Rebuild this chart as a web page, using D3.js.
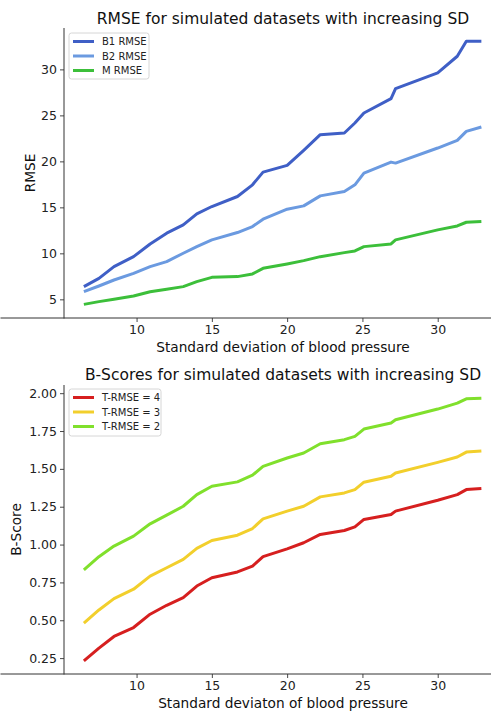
<!DOCTYPE html>
<html>
<head>
<meta charset="utf-8">
<script src="https://cdn.jsdelivr.net/npm/d3@7"></script>
<style>
  html, body { margin: 0; padding: 0; background: #fff; }
  svg { display: block; font-family: "DejaVu Sans", sans-serif; }
</style>
</head>
<body>
<svg id="chart" width="491" height="711"></svg>
<script>
// Standard deviation of blood pressure for each simulated dataset
const sdValues = [6.5, 7.5, 8.5, 9.8, 10.9, 12.0, 13.1, 14.0, 15.0, 16.7, 17.7, 18.4,
                  20.0, 21.1, 22.2, 23.8, 24.5, 25.1, 26.9, 27.2, 30.0, 31.3, 31.9, 32.9];

// RMSE series
const b1Rmse = [6.38, 7.28, 8.55, 9.64, 11.02, 12.19, 13.09, 14.29, 15.09, 16.18, 17.45, 18.83,
                19.56, 21.2, 22.90, 23.08, 24.17, 25.26, 26.82, 27.91, 29.62, 31.43, 33.06, 33.06];
const b2Rmse = [5.83, 6.45, 7.10, 7.83, 8.55, 9.10, 10.01, 10.73, 11.46, 12.26, 12.91, 13.71,
                14.80, 15.16, 16.25, 16.72, 17.45, 18.72, 19.92, 19.81, 21.45, 22.28, 23.26, 23.73];
const mRmse  = [4.45, 4.75, 5.00, 5.36, 5.83, 6.10, 6.38, 6.92, 7.39, 7.47, 7.76, 8.37,
                8.85, 9.21, 9.64, 10.08, 10.26, 10.73, 11.02, 11.46, 12.55, 12.98, 13.38, 13.46];

// B-Score series for three T-RMSE thresholds
const bScoreT4 = [0.232, 0.316, 0.393, 0.452, 0.540, 0.599, 0.650, 0.726, 0.781, 0.819, 0.858, 0.920,
                  0.972, 1.012, 1.067, 1.093, 1.117, 1.166, 1.199, 1.221, 1.293, 1.330, 1.363, 1.370];
const bScoreT3 = [0.481, 0.568, 0.643, 0.705, 0.792, 0.847, 0.902, 0.975, 1.027, 1.062, 1.106, 1.170,
                  1.221, 1.253, 1.315, 1.341, 1.363, 1.412, 1.451, 1.473, 1.543, 1.578, 1.611, 1.618];
const bScoreT2 = [0.832, 0.920, 0.990, 1.056, 1.137, 1.194, 1.253, 1.330, 1.385, 1.414, 1.458, 1.517,
                  1.572, 1.605, 1.666, 1.693, 1.715, 1.763, 1.803, 1.824, 1.895, 1.934, 1.963, 1.967];

// Tick labels
const xTicks = [10, 15, 20, 25, 30];
const rmseTicks = [5, 10, 15, 20, 25, 30];
const bScoreTicks = [0.25, 0.50, 0.75, 1.00, 1.25, 1.50, 1.75, 2.00];

const svg = d3.select("#chart");

function drawPanel(cfg) {
  const g = svg.append("g");
  const x = d3.scaleLinear().domain([5.18, 34.27]).range([64, 502]);
  const y = d3.scaleLinear().domain(cfg.yDomain).range([cfg.bottom, cfg.top]);

  // series lines
  const line = d3.line().x(d => x(d[0])).y(d => y(d[1]));
  cfg.series.forEach(s => {
    g.append("path")
      .datum(sdValues.map((v, i) => [v, s.values[i]]))
      .attr("fill", "none")
      .attr("stroke", s.color)
      .attr("stroke-width", 3)
      .attr("stroke-linejoin", "round")
      .attr("d", line);
  });

  // axes
  const xAxis = g.append("g")
    .attr("transform", `translate(0,${cfg.bottom})`)
    .call(d3.axisBottom(x).tickValues(xTicks).tickSize(4).tickPadding(3).tickFormat(d3.format("d")));
  const yAxis = g.append("g")
    .attr("transform", "translate(64,0)")
    .call(d3.axisLeft(y).tickValues(cfg.yTicks).tickSize(4).tickPadding(3).tickFormat(cfg.yFormat));
  [xAxis, yAxis].forEach(a => {
    a.selectAll("text").attr("font-size", 12.5).attr("fill", "#222").attr("font-family", "DejaVu Sans");
    a.selectAll("line").attr("stroke", "#333").attr("stroke-width", 0.9);
    a.select(".domain").attr("stroke", "#333").attr("stroke-width", 1);
  });
  xAxis.select(".domain").attr("d", `M0.5,0H491`);
  yAxis.select(".domain").attr("d", `M0,${cfg.top}V${cfg.bottom + 0.5}`);

  // titles
  g.append("text")
    .attr("x", 283).attr("y", cfg.titleY)
    .attr("text-anchor", "middle").attr("font-size", 15.5).attr("fill", "#111")
    .text(cfg.title);
  g.append("text")
    .attr("x", 283).attr("y", cfg.xLabelY)
    .attr("text-anchor", "middle").attr("font-size", 13.7).attr("fill", "#111")
    .text(cfg.xLabel);
  g.append("text")
    .attr("transform", `translate(${cfg.yLabelX},${(cfg.top + cfg.bottom) / 2}) rotate(-90)`)
    .attr("text-anchor", "middle").attr("font-size", 13.7).attr("fill", "#111")
    .text(cfg.yLabel);

  // legend
  const lg = g.append("g").attr("transform", `translate(${cfg.legend.x},${cfg.legend.y})`);
  lg.append("rect")
    .attr("width", cfg.legend.w).attr("height", cfg.legend.h)
    .attr("rx", 2.5).attr("fill", "#fff").attr("fill-opacity", 0.8)
    .attr("stroke", "#d6d6d6").attr("stroke-width", 1);
  cfg.series.forEach((s, i) => {
    const yy = 8.5 + i * 14.5;
    lg.append("line")
      .attr("x1", 4).attr("x2", 25).attr("y1", yy).attr("y2", yy)
      .attr("stroke", s.color).attr("stroke-width", 3);
    lg.append("text")
      .attr("x", 33).attr("y", yy).attr("dy", "0.35em")
      .attr("font-size", 10).attr("fill", "#222")
      .text(s.name);
  });
}

drawPanel({
  top: 28, bottom: 318,
  yDomain: [2.97, 34.5],
  yTicks: rmseTicks, yFormat: d3.format("d"),
  title: "RMSE for simulated datasets with increasing SD", titleY: 24,
  xLabel: "Standard deviation of blood pressure", xLabelY: 352,
  yLabel: "RMSE", yLabelX: 35,
  legend: { x: 69, y: 33, w: 80, h: 46 },
  series: [
    { name: "B1 RMSE", values: b1Rmse, color: "#3f5fc6" },
    { name: "B2 RMSE", values: b2Rmse, color: "#6b9ae0" },
    { name: "M RMSE",  values: mRmse,  color: "#3cbf3a" }
  ]
});

drawPanel({
  top: 385, bottom: 674,
  yDomain: [0.145, 2.054],
  yTicks: bScoreTicks, yFormat: d3.format(".2f"),
  title: "B-Scores for simulated datasets with increasing SD", titleY: 380,
  xLabel: "Standard deviaton of blood pressure", xLabelY: 708,
  yLabel: "B-Score", yLabelX: 21,
  legend: { x: 69, y: 389, w: 92, h: 47 },
  series: [
    { name: "T-RMSE = 4", values: bScoreT4, color: "#d61f1f" },
    { name: "T-RMSE = 3", values: bScoreT3, color: "#f2cf2c" },
    { name: "T-RMSE = 2", values: bScoreT2, color: "#80e02c" }
  ]
});
</script>
</body>
</html>
